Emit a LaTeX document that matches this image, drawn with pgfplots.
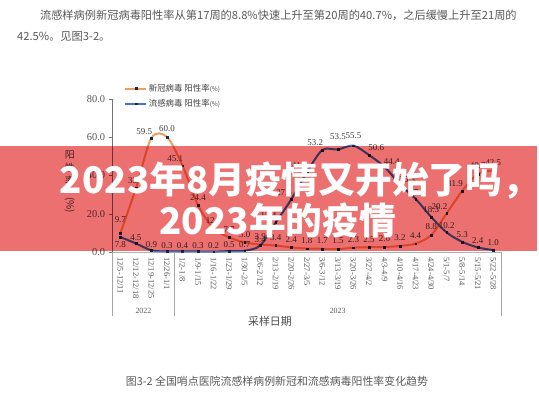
\documentclass[border=0pt]{standalone}
\usepackage{fontspec}
\setmainfont{Liberation Serif}
\newfontfamily\cjk{Noto Sans CJK SC}
\usepackage{graphicx}
\usepackage{pgfplots}
\usepackage{pgfplotstable}
\pgfplotsset{compat=1.18}

\definecolor{covid}{RGB}{237,157,94}
\definecolor{flu}{RGB}{68,114,196}
\definecolor{mk}{RGB}{30,40,70}
\definecolor{banner}{RGB}{236,112,112}
\definecolor{txt}{RGB}{89,89,89}

% x = week index, lab = printed label, anc = label anchor angle, dy = label shift
\pgfplotstableread{
x y lab anc dy
0 9.7 9.7 -90 10
1 33.2 33.2 -90 4
2 59.5 59.5 -30 2
3 60.0 60.0 -90 4
4 45.1 45.1 -30 3
5 24.4 24.4 -90 4
6 12.3 12.3 -90 4
7 7.7 7.7 -90 4
8 5.0 5.0 -90 4
9 3.9 3.9 -90 4
10 3.4 3.4 -90 4
11 2.4 2.4 -90 4
12 1.8 1.8 -90 4
13 1.7 1.7 -90 4
14 1.5 1.5 -90 4
15 2.3 2.3 -90 4
16 2.5 2.5 -90 4
17 2.6 2.6 -90 4
18 3.2 3.2 -90 4
19 4.4 4.4 -90 4
20 8.8 8.8 -90 4
21 20.2 20.2 -30 3
22 31.9 31.9 -30 3
23 40.7 40.7 -90 4
24 42.5 42.5 -90 4
}\covid

\pgfplotstableread{
x y lab anc dy
0 7.8 7.8 90 -3
1 4.5 4.5 -90 2
2 0.9 0.9 -90 2
3 0.3 0.3 -90 2
4 0.4 0.4 -90 2
5 0.3 0.3 -90 2
6 0.2 0.2 -90 2
7 0.5 0.5 -90 2
8 0.7 0.7 -90 2
9 3.4 3.4 -90 2
10 15.4 15.4 -30 3
11 27.5 27.5 -30 3
12 41.6 41.6 -30 3
13 53.2 53.2 -30 3
14 53.5 53.5 -90 9
15 55.5 55.5 -90 6
16 50.6 50.6 -150 3
17 44.4 44.4 -150 1
18 35.3 35.3 -150 1
19 27.7 27.7 -110 2
20 18.3 18.3 -90 3
21 10.2 10.2 -90 3
22 5.3 5.3 -90 3
23 2.4 2.4 -90 3
24 1.0 1.0 -90 3
}\flu

\begin{document}
\begin{tikzpicture}[x=1bp,y=1bp]
\fill[white] (0,0) rectangle (539,400);

% page text above the chart
\node[anchor=west, inner sep=0, font=\cjk\fontsize{11.3}{12}\selectfont, text=black!65] at (40,385)
  {流感样病例新冠病毒阳性率从第17周的8.8\%快速上升至第20周的40.7\%，之后缓慢上升至21周的};
\node[anchor=west, inner sep=0, font=\cjk\fontsize{11.3}{12}\selectfont, text=black!65] at (17,363)
  {42.5\%。见图3-2。};

\begin{axis}[
  at={(113bp,147bp)}, anchor=south west,
  scale only axis, width=390bp, height=154bp,
  xmin=-0.5, xmax=24.5, ymin=0, ymax=80,
  axis x line=bottom, axis y line=left,
  x axis line style={-, draw=black!30},
  y axis line style={-, draw=black!55},
  xtick={0,...,24},
  xticklabels={12/5-12/11,12/12-12/18,12/19-12/25,12/26-1/1,1/2-1/8,1/9-1/15,1/16-1/22,1/23-1/29,1/30-2/5,2/6-2/12,2/13-2/19,2/20-2/26,2/27-3/5,3/6-3/12,3/13-3/19,3/20-3/26,3/27-4/2,4/3-4/9,4/10-4/16,4/17-4/23,4/24-4/30,5/1-5/7,5/8-5/14,5/15-5/21,5/22-5/28},
  xtick style={draw=none},
  xticklabel style={rotate=-90, anchor=west, font=\fontsize{8.5}{8.5}\selectfont, text=txt, inner sep=1bp},
  ytick={0,20,40,60,80},
  ytick style={draw=black!55},
  tick align=outside, major tick length=4bp,
  yticklabel style={font=\fontsize{10.5}{10.5}\selectfont, text=txt,
    /pgf/number format/fixed, /pgf/number format/fixed zerofill,
    /pgf/number format/precision=1, /pgf/number format/assume math mode=true},
  clip=false,
  legend style={draw=none, fill=none, at={(0.03,1.105)}, anchor=north west,
    font=\cjk\fontsize{8.5}{9.5}\selectfont, text=black!75, row sep=3.5bp,
    inner sep=0pt, nodes={inner sep=1.5bp}},
  legend cell align=left,
  legend image code/.code={\draw[mark repeat=2,mark phase=2,#1] plot coordinates {(0bp,0bp) (10.5bp,0bp) (21bp,0bp)};},
  nodes near coords,
  point meta=explicit symbolic,
  visualization depends on={\thisrow{anc} \as \anc},
  visualization depends on={\thisrow{dy} \as \dy},
  every node near coord/.append style={anchor=\anc, yshift=\dy,
    font=\fontsize{9}{9}\selectfont, text=black!75, inner sep=1bp},
]
\addplot[covid, line width=2bp, smooth, tension=0.5, mark=square*, mark size=0.9bp,
  mark options={draw=mk, fill=mk, line width=0.3bp}] table[x=x, y=y, meta=lab] {\covid};
\addlegendentry{新冠病毒 阳性率{\fontsize{6.5}{6.5}\selectfont(\%)}}
\addplot[flu, line width=2bp, smooth, tension=0.5, mark=square*, mark size=0.9bp,
  mark options={draw=mk, fill=mk, line width=0.3bp}] table[x=x, y=y, meta=lab] {\flu};
\addlegendentry{流感病毒 阳性率{\fontsize{6.5}{6.5}\selectfont(\%)}}
\end{axis}

% two-level category axis
\draw[black!35, line width=0.6bp] (113,147) -- (113,83) (175.4,147) -- (175.4,83) (503,147) -- (503,83);
\node[font=\fontsize{8}{8}\selectfont, text=txt] at (144,88) {2022};
\node[font=\fontsize{8}{8}\selectfont, text=txt] at (339,88) {2023};
\node[font=\cjk\fontsize{11}{11}\selectfont, text=black!70] at (271,77) {采样日期};
\node[anchor=north, align=center, inner sep=0, font=\cjk\fontsize{10}{13}\selectfont, text=black!70] at (70,249)
  {阳\\性\\率\\\rotatebox{-90}{(\%)}};

\node[font=\cjk\fontsize{11}{11}\selectfont, text=black!65] at (278,17)
  {图3-2 全国哨点医院流感样病例新冠和流感病毒阳性率变化趋势};

% banner laid over the page
\begin{scope}[blend mode=multiply]
\fill[banner] (0,148) rectangle (539,253);
\end{scope}
\node[anchor=west, inner sep=0, text=white, font=\cjk\bfseries\fontsize{37}{37}\selectfont] at (60,219)
  {2023年8月疫情又开始了吗，};
\node[anchor=west, inner sep=0, text=white, font=\cjk\bfseries\fontsize{37}{37}\selectfont] at (160,179)
  {2023年的疫情};
\end{tikzpicture}
\end{document}
